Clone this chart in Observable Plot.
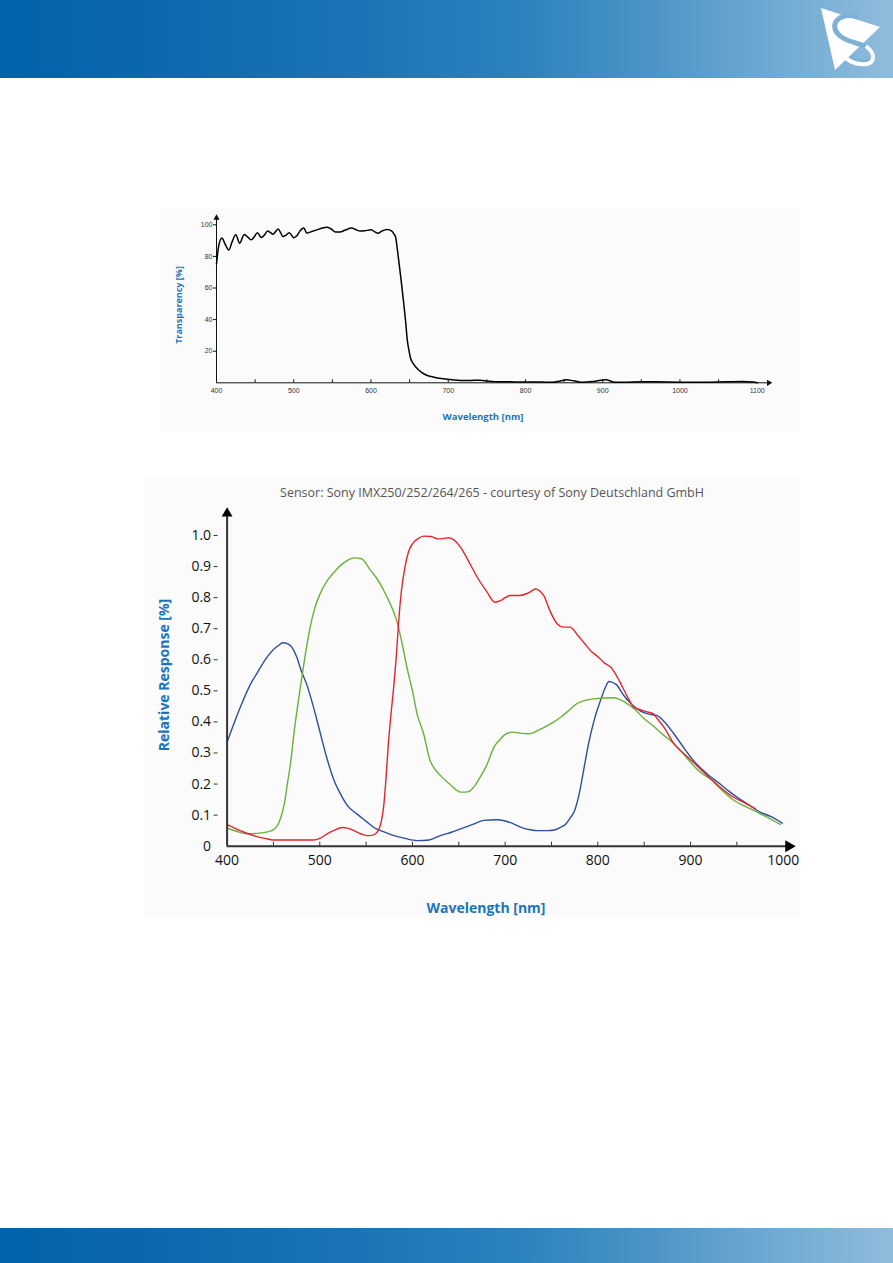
<!DOCTYPE html>
<html><head><meta charset="utf-8">
<script src="https://cdn.jsdelivr.net/npm/d3@7"></script>
<script src="https://cdn.jsdelivr.net/npm/@observablehq/plot@0.6"></script>
<style>
body{margin:0;background:#fff;}
#page{position:relative;width:893px;height:1263px;overflow:hidden;font-family:"Open Sans",sans-serif;background:#fff;}
.band{position:absolute;left:0;width:893px;background:linear-gradient(to right,#0063ab 0%,#0f69ae 20%,#1c74b6 40%,#2c82bd 58%,#4993c6 72%,#6aa6d0 84%,#8fbcdc 100%);}
.bg{position:absolute;background:#fbfbfb;}
.plot{position:absolute;}
.lbl{position:absolute;white-space:nowrap;transform:translate(-50%,-50%);}
.axlbl{color:#1b75bc;font-weight:700;}
</style></head>
<body><div id="page">
<div class="band" style="top:0;height:78px;"></div>
<svg style="position:absolute;left:800px;top:0" width="93" height="80" viewBox="800 0 93 80">
  <polygon points="821,8 880,27 835,70" fill="#fff"/>
  <path d="M858,17 C842,12 828,22 838,34 C846,44 866,42 872,52 C878,62 862,66 850,58" fill="none" stroke="#7fb1d6" stroke-width="5"/>
  <path d="M866,46 C878,56 874,66 860,64 C852,63 848,60 846,58" fill="none" stroke="#fff" stroke-width="4"/>
</svg>
<div class="band" style="top:1228px;height:35px;"></div>
<div class="bg" style="left:160px;top:208px;width:640px;height:224px;"></div>
<div class="bg" style="left:144px;top:477px;width:656px;height:441px;"></div>
<div id="c1" class="plot" style="left:160px;top:200px;"></div>
<div id="c2" class="plot" style="left:144px;top:477px;"></div>
<div class="lbl axlbl" style="left:178px;top:305px;font-size:9px;transform:translate(-50%,-50%) rotate(-90deg);">Transparency [%]</div>
<div class="lbl axlbl" style="left:483px;top:416px;font-size:9.5px;">Wavelength [nm]</div>
<div class="lbl" style="left:492px;top:492px;font-size:12.5px;color:#555;">Sensor: Sony IMX250/252/264/265 - courtesy of Sony Deutschland GmbH</div>
<div class="lbl axlbl" style="left:163px;top:675px;font-size:14px;transform:translate(-50%,-50%) rotate(-90deg);">Relative Response [%]</div>
<div class="lbl axlbl" style="left:486px;top:907px;font-size:14px;">Wavelength [nm]</div>
</div>
<script>
// ---- Chart 1: filter transparency ----
const filterWavelength = [400,403,407,411,416,420,425,430,436,441,445,449,453,458,462,466,470,473,477,480,483,486,490,494,497,500,504,508,513,517,522,530,537,543,548,554,560,566,575,580,586,592,600,605,609,614,621,627,630,632,634,636,639,642,645,647,649,651,655,660,666,673,683,694,705,716,728,741,750,760,780,800,820,835,845,853,862,875,890,904,916,930,950,970,1000,1030,1060,1080,1095,1100];
const filterTransparency = [75.3,87,91.6,88,84,89,93.7,88.4,93.9,92,90.5,92.5,95,92,93.5,96,95,94,96,97.3,95,92.6,93.5,95,93.5,91.8,93,96,97.9,94.7,95.5,96.8,98,98.5,97.5,95.4,95.5,96.5,97.9,97,96,96.2,96.8,95.5,94.7,96,97,96,94,92,85,77,65,52,38,27,21,16,12,8.9,6.5,4.6,3.4,2.5,1.9,1.5,1.5,1.6,1.2,0.7,0.6,0.5,0.5,0.3,1.2,1.9,1.3,0.3,1.0,1.9,0.3,0.4,0.7,0.6,0.4,0.3,0.6,0.8,0.5,0];
const filterXTicks = [400,500,600,700,800,900,1000,1100];
const filterXMinor = [450,500,550,600,650,700,750,800,850,900,950,1000,1050];
const filterYTicks = [20,40,60,80,100];

// ---- Chart 2: sensor relative response ----
const blueWavelength = [400,408,416,425,433,441,449,455,460,465,470,475,480,486,493,500,508,515,522,530,540,550,558,570,580,592,605,618,630,642,652,665,677,691,700,709,718,727,736,745,753,760,765,770,775,780,785,790,796,803,808,812,815,820,828,837,846,855,864,872,882,892,903,917,932,941,950,962,975,987,999];
const blueResponse = [.335,.40,.46,.52,.56,.60,.63,.645,.655,.652,.64,.61,.565,.52,.45,.37,.28,.215,.17,.13,.104,.08,.061,.045,.034,.025,.018,.02,.034,.045,.056,.07,.083,.085,.081,.072,.06,.053,.05,.05,.052,.061,.07,.09,.115,.17,.25,.33,.405,.47,.51,.53,.528,.52,.485,.455,.435,.425,.42,.40,.362,.32,.276,.235,.2,.178,.158,.135,.11,.095,.074];
const redWavelength = [400,407,414,423,432,441,450,470,493,500,508,516,524,530,537,544,551,556,560,563,566,569,571,574,577,580,583,585,588,592,596,600,606,612,620,627,633,639,645,652,660,671,680,689,695,700,706,716,725,733,738,742,748,756,763,770,778,785,792,800,807,814,820,827,833,839,845,852,860,864,872,882,892,903,917,932,945,958,970];
const redResponse = [.07,.06,.05,.04,.031,.025,.02,.02,.02,.025,.04,.052,.06,.058,.05,.04,.034,.035,.04,.05,.075,.13,.2,.33,.43,.52,.63,.72,.82,.9,.95,.973,.99,.998,.997,.989,.99,.993,.985,.962,.92,.86,.82,.785,.79,.80,.807,.807,.815,.828,.82,.805,.76,.716,.705,.705,.68,.655,.63,.61,.59,.576,.55,.51,.475,.447,.44,.433,.426,.411,.38,.33,.30,.27,.23,.19,.16,.14,.12];
const greenWavelength = [400,410,421,435,448,455,458,462,465,469,472,477,483,488,494,500,508,515,522,530,537,545,555,562,569,576,583,589,594,600,605,612,619,625,630,640,652,660,666,673,680,688,695,700,708,716,726,737,749,760,770,778,787,795,806,817,825,832,840,850,857,870,882,893,903,912,921,934,947,958,968,983,997];
const greenResponse = [.058,.048,.04,.042,.05,.07,.093,.14,.2,.28,.36,.47,.59,.68,.76,.81,.855,.88,.903,.92,.928,.925,.887,.86,.823,.78,.726,.65,.576,.5,.426,.362,.276,.245,.228,.2,.174,.175,.19,.222,.26,.319,.345,.36,.367,.364,.362,.375,.394,.415,.44,.46,.47,.474,.477,.478,.47,.458,.44,.41,.394,.36,.33,.295,.26,.235,.217,.18,.147,.13,.115,.093,.07];
const sensorXTicks = [400,500,600,700,800,900,1000];
const sensorXMinor = [450,500,550,600,650,700,750,800,850,900,950];
const sensorYTicks = [0,0.1,0.2,0.3,0.4,0.5,0.6,0.7,0.8,0.9,1.0];
const blueColor = "#2d4f9c", greenColor = "#69b13c", redColor = "#e3262c";

const filterData = filterWavelength.map((w,i)=>({w, t: filterTransparency[i]}));
const mk = (ws, vs) => ws.map((w,i)=>({w, v: vs[i]}));
const blueData = mk(blueWavelength, blueResponse);
const greenData = mk(greenWavelength, greenResponse);
const redData = mk(redWavelength, redResponse);

const c1 = Plot.plot({
  width: 640, height: 232,
  marginLeft: 56, marginRight: 43.3, marginTop: 24.3, marginBottom: 49.7,
  x: {domain: [400, 1100]},
  y: {domain: [0, 100]},
  style: {background: "transparent", fontFamily: "'Liberation Sans', Arial, sans-serif", fontSize: "7px", color: "#333", overflow: "visible"},
  marks: [
    Plot.axisX({ticks: filterXTicks, tickSize: 0, tickPadding: 5, label: null, tickFormat: d => String(d)}),
    Plot.axisX({ticks: filterXMinor, tickSize: -3, tickFormat: () => "", label: null, stroke: "#111"}),
    Plot.axisY({ticks: filterYTicks, tickSize: 3, tickPadding: 1, label: null, stroke: "#111", tickFormat: d => String(d)}),
    Plot.ruleY([0], {x1: 400, x2: 1115, stroke: "#111"}),
    Plot.ruleX([400], {y1: 0, y2: 104.4, stroke: "#111"}),
    Plot.dot([0], {x: 1115, y: 0, symbol: "triangle", r: 2.3, fill: "#111", rotate: 90}),
    Plot.dot([0], {x: 400, y: 104.4, symbol: "triangle", r: 2.3, fill: "#111"}),
    Plot.line(filterData, {x: "w", y: "t", curve: "monotone-x", stroke: "#000", strokeWidth: 1.5})
  ]
});
document.getElementById("c1").append(c1);

const c2 = Plot.plot({
  width: 656, height: 441,
  marginLeft: 82.6, marginRight: 17.3, marginTop: 58, marginBottom: 72.3,
  x: {domain: [400, 1000]},
  y: {domain: [0, 1]},
  style: {background: "transparent", fontFamily: "'Open Sans', sans-serif", fontSize: "14px", color: "#111", overflow: "visible"},
  marks: [
    Plot.axisX({ticks: sensorXTicks, tickSize: 0, tickPadding: 9, label: null, tickFormat: d => String(d)}),
    Plot.axisX({ticks: sensorXMinor, tickSize: -4, tickFormat: () => "", label: null, stroke: "#333"}),
    Plot.axisY({ticks: sensorYTicks, tickSize: 0, tickPadding: 16, label: null, tickFormat: d => d === 0 ? "0" : d.toFixed(1)}),
    Plot.axisY({ticks: sensorYTicks.slice(1), tickSize: 4, dx: -9, tickFormat: () => "", label: null, stroke: "#333"}),
    Plot.line(blueData, {x: "w", y: "v", stroke: blueColor, curve: "monotone-x", strokeWidth: 1.4}),
    Plot.line(greenData, {x: "w", y: "v", stroke: greenColor, curve: "monotone-x", strokeWidth: 1.4}),
    Plot.line(redData, {x: "w", y: "v", stroke: redColor, curve: "monotone-x", strokeWidth: 1.4}),
    Plot.ruleY([0], {x1: 400, x2: 1006, stroke: "#333", strokeWidth: 2}),
    Plot.ruleX([400], {y1: 0, y2: 1.07, stroke: "#333", strokeWidth: 2}),
    Plot.dot([0], {x: 1006, y: 0, symbol: "triangle", r: 4.5, fill: "#000", rotate: 90}),
    Plot.dot([0], {x: 400, y: 1.071, symbol: "triangle", r: 4, fill: "#000"})
  ]
});
document.getElementById("c2").append(c2);
</script>
</body></html>
